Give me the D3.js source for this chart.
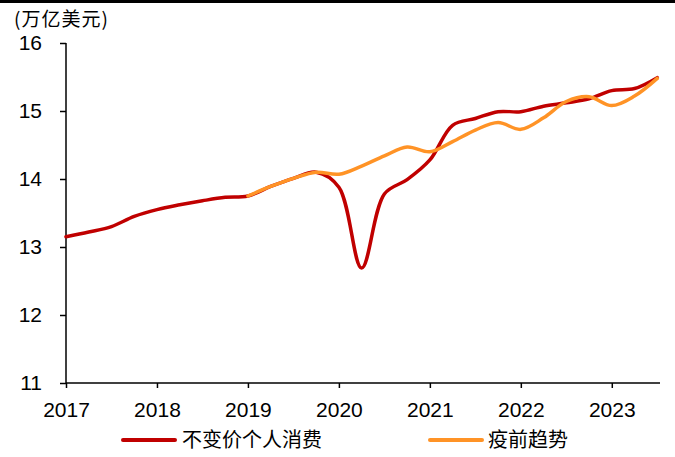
<!DOCTYPE html>
<html><head><meta charset="utf-8">
<script src="https://cdn.jsdelivr.net/npm/d3@7/dist/d3.min.js"></script>
<style>html,body{margin:0;padding:0;background:#fff;}svg{display:block;}</style>
</head><body>
<svg id="c" width="675" height="457"></svg>
<script>
// Data (decimal year, trillions USD)
const realYears = [2017.00,2017.25,2017.50,2017.75,2018.00,2018.25,2018.50,2018.75,2019.00,2019.25,2019.50,2019.75,2020.00,2020.25,2020.50,2020.75,2021.00,2021.25,2021.50,2021.75,2022.00,2022.25,2022.50,2022.75,2023.00,2023.25,2023.50];
const realPCE   = [13.15,13.22,13.30,13.45,13.55,13.62,13.68,13.73,13.75,13.89,14.01,14.10,13.88,12.69,13.78,13.99,14.28,14.79,14.89,14.99,14.99,15.07,15.12,15.18,15.30,15.33,15.49];
const trendYears = [2019.00,2019.25,2019.50,2019.75,2020.00,2020.25,2020.50,2020.75,2021.00,2021.25,2021.50,2021.75,2022.00,2022.25,2022.50,2022.75,2023.00,2023.25,2023.50];
const trendPCE   = [13.75,13.89,14.01,14.10,14.07,14.19,14.34,14.47,14.40,14.55,14.72,14.83,14.73,14.90,15.14,15.21,15.08,15.22,15.48];
const yTicks = [11,12,13,14,15,16];
const xTicks = [2017,2018,2019,2020,2021,2022,2023];
const unitLabel = "(万亿美元)";
const seriesNames = ["不变价个人消费","疫前趋势"];
const colors = ["#C00000","#FF9326"];

const svg = d3.select("#c");
svg.append("rect").attr("x",0).attr("y",0).attr("width",675).attr("height",3).attr("fill","#000");

const x = d3.scaleLinear().domain([2017, 2023.53]).range([66, 660]);
const y = d3.scaleLinear().domain([11, 16]).range([383, 43]);

const numFont = "'Liberation Sans', Arial, sans-serif";
const cjkFont = "'Noto Sans CJK SC', sans-serif";

// Y axis
const ya = svg.append("g").attr("transform","translate(66,0)")
  .call(d3.axisLeft(y).tickValues(yTicks).tickSize(6).tickPadding(18).tickFormat(d3.format("d")));
ya.select(".domain").attr("stroke","#000").attr("stroke-width",1.5).attr("d","M0,43V383");
ya.selectAll(".tick line").attr("stroke","#000").attr("stroke-width",1.5);
ya.selectAll(".tick text").attr("font-family",numFont).attr("font-size",21).attr("fill","#000");

// X axis
const xa = svg.append("g").attr("transform","translate(0,383)")
  .call(d3.axisBottom(x).tickValues(xTicks).tickSize(5).tickPadding(14).tickFormat(d3.format("d")));
xa.select(".domain").attr("stroke","#000").attr("stroke-width",1.5).attr("d","M66,0H660");
xa.selectAll(".tick line").attr("stroke","#000").attr("stroke-width",1.5);
xa.selectAll(".tick text").attr("font-family",numFont).attr("font-size",21).attr("fill","#000");

// Unit label
svg.append("text").attr("x",14).attr("y",26).attr("font-family",cjkFont).attr("font-size",19).attr("letter-spacing",1).attr("fill","#000").text(unitLabel);

const line = d3.line().x(d=>x(d[0])).y(d=>y(d[1])).curve(d3.curveCatmullRom.alpha(0.5));
const realData = realYears.map((t,i)=>[t, realPCE[i]]);
const trendData = trendYears.map((t,i)=>[t, trendPCE[i]]);

svg.append("path").datum(realData).attr("d",line).attr("fill","none").attr("stroke",colors[0]).attr("stroke-width",3.5).attr("stroke-linejoin","round").attr("stroke-linecap","round");
svg.append("path").datum(trendData).attr("d",line).attr("fill","none").attr("stroke",colors[1]).attr("stroke-width",3.5).attr("stroke-linejoin","round").attr("stroke-linecap","round");

// Legend
const legend = [{x0:123,x1:175,tx:182},{x0:430,x1:482,tx:488}];
legend.forEach((l,i)=>{
  svg.append("line").attr("x1",l.x0).attr("x2",l.x1).attr("y1",440).attr("y2",440).attr("stroke",colors[i]).attr("stroke-width",4).attr("stroke-linecap","round");
  svg.append("text").attr("x",l.tx).attr("y",440).attr("dy","0.35em").attr("font-family",cjkFont).attr("font-size",20).attr("fill","#000").text(seriesNames[i]);
});
</script>
</body></html>
